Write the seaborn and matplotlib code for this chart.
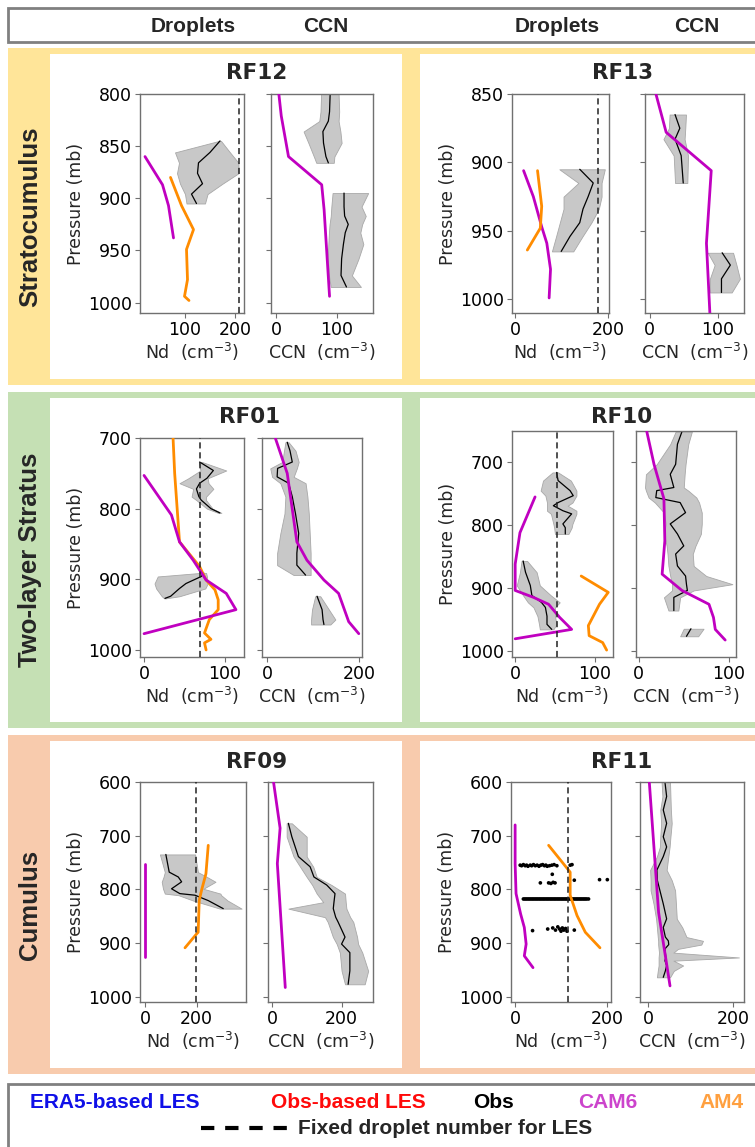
import numpy as np
import pandas as pd
import seaborn as sns
import matplotlib
matplotlib.use("Agg")
import matplotlib.pyplot as plt
from matplotlib.patches import Rectangle
from matplotlib.lines import Line2D
from matplotlib import font_manager

# ---------------- DATA ----------------
# RF12
rf12_cam_nd_x = [20, 55, 67, 77]
rf12_cam_nd_p = [860, 887, 907, 938]
rf12_am4_nd_x = [71, 93, 117, 103, 105, 99, 108]
rf12_am4_nd_p = [880, 907, 930, 949, 978, 994, 998]
rf12_obs_nd_p = [845, 856, 866, 876, 886, 896, 905]
rf12_obs_nd = [170, 150, 127, 125, 135, 113, 123]
rf12_obs_nd_lo = [168, 80, 88, 84, 90, 100, 103]
rf12_obs_nd_hi = [172, 190, 207, 207, 175, 145, 140]
rf12_fixed = 208
rf12_cam_ccn_x = [4, 8, 20, 75, 79, 88]
rf12_cam_ccn_p = [800, 821, 860, 887, 911, 994]
rf12_obs_ccn1_p = [800, 817, 826, 836, 847, 860, 866]
rf12_obs_ccn1 = [89, 88, 86, 77, 78, 82, 86]
rf12_obs_ccn1_lo = [74, 73, 71, 45, 53, 62, 66]
rf12_obs_ccn1_hi = [103, 104, 103, 106, 108, 96, 95]
rf12_obs_ccn2_p = [895, 908, 917, 925, 933, 944, 958, 974, 985]
rf12_obs_ccn2 = [112, 112, 113, 119, 114, 111, 108, 107, 116]
rf12_obs_ccn2_lo = [93, 91, 90, 88, 87, 86, 85, 87, 90]
rf12_obs_ccn2_hi = [152, 141, 148, 142, 139, 144, 136, 125, 140]

# RF13
rf13_cam_nd_x = [18, 39, 57, 68, 76, 73]
rf13_cam_nd_p = [906, 925, 947, 959, 978, 999]
rf13_am4_nd_x = [48, 57, 54, 26]
rf13_am4_nd_p = [906, 932, 948, 964]
rf13_obs_nd_p = [905, 915, 925, 934, 944, 954, 965]
rf13_obs_nd = [139, 168, 157, 146, 139, 118, 99]
rf13_obs_nd_lo = [95, 136, 104, 104, 96, 88, 79]
rf13_obs_nd_hi = [193, 186, 186, 180, 164, 145, 125]
rf13_fixed = 179
rf13_cam_ccn_x = [9, 24, 90, 83, 88]
rf13_cam_ccn_p = [850, 878, 906, 959, 1010]
rf13_obs_ccn1_p = [865, 875, 883, 895, 915]
rf13_obs_ccn1 = [37, 44, 37, 46, 49]
rf13_obs_ccn1_lo = [29, 28, 20, 35, 37]
rf13_obs_ccn1_hi = [53, 52, 51, 56, 55]
rf13_obs_ccn2_p = [966, 975, 985, 995]
rf13_obs_ccn2 = [106, 118, 105, 105]
rf13_obs_ccn2_lo = [85, 95, 88, 88]
rf13_obs_ccn2_hi = [122, 127, 132, 120]

# RF01
rf01_am4_nd_x = [36, 38, 44, 69, 77, 88, 92, 92, 81, 75, 83, 75, 77]
rf01_am4_nd_p = [700, 750, 847, 882, 901, 915, 929, 943, 957, 976, 985, 990, 1000]
rf01_cam_nd_x = [0, 34, 44, 61, 77, 102, 114, 0]
rf01_cam_nd_p = [753, 809, 847, 873, 901, 920, 943, 977]
rf01_obs_nd1_p = [734, 746, 757, 764, 772, 783, 788, 800, 806]
rf01_obs_nd1 = [69, 86, 78, 69, 65, 68, 71, 83, 94]
rf01_obs_nd1_lo = [68, 70, 55, 44, 61, 59, 65, 78, 92]
rf01_obs_nd1_hi = [72, 102, 79, 80, 86, 77, 77, 85, 96]
rf01_obs_nd2_p = [891, 896, 906, 913, 924, 927]
rf01_obs_nd2 = [74, 71, 52, 44, 33, 26]
rf01_obs_nd2_lo = [70, 17, 13, 15, 22, 25]
rf01_obs_nd2_hi = [77, 78, 79, 76, 44, 27]
rf01_fixed = 70
rf01_cam_ccn_x = [18, 44, 65, 87, 124, 156, 178, 200]
rf01_cam_ccn_p = [700, 750, 847, 873, 901, 920, 960, 977]
rf01_obs_ccn1_p = [706, 718, 734, 743, 755, 764, 783, 807, 835, 863, 880, 894]
rf01_obs_ccn1 = [44, 50, 55, 23, 22, 47, 55, 62, 69, 65, 65, 84]
rf01_obs_ccn1_lo = [40, 37, 33, 7, 11, 29, 40, 38, 29, 22, 22, 58]
rf01_obs_ccn1_hi = [47, 62, 69, 65, 58, 84, 88, 91, 93, 95, 95, 95]
rf01_obs_ccn2_p = [924, 943, 957, 964]
rf01_obs_ccn2 = [109, 120, 122, 124]
rf01_obs_ccn2_lo = [105, 98, 96, 96]
rf01_obs_ccn2_hi = [116, 135, 149, 138]

# RF10
rf10_cam_nd_x = [25, 6, 0, 0, 23, 42, 56, 71, 0]
rf10_cam_nd_p = [755, 812, 862, 904, 915, 926, 947, 966, 981]
rf10_am4_nd_x = [83, 117, 106, 92, 93, 110, 115]
rf10_am4_nd_p = [881, 907, 926, 960, 976, 987, 999]
rf10_obs_nd1_p = [716, 729, 745, 753, 764, 769, 777, 782, 798, 804, 814]
rf10_obs_nd1 = [52, 54, 69, 73, 54, 48, 60, 71, 60, 63, 63]
rf10_obs_nd1_lo = [47, 35, 32, 38, 40, 40, 40, 45, 48, 49, 50]
rf10_obs_nd1_hi = [54, 70, 77, 77, 72, 66, 77, 77, 72, 71, 67]
rf10_obs_nd2_p = [857, 875, 896, 912, 923, 931, 945, 958, 966]
rf10_obs_nd2 = [10, 13, 19, 21, 33, 38, 40, 40, 46]
rf10_obs_nd2_lo = [8, 6, 2, 10, 16, 23, 28, 30, 31]
rf10_obs_nd2_hi = [15, 27, 31, 45, 56, 50, 50, 52, 48]
rf10_fixed = 52
rf10_cam_ccn_x = [9, 17, 28, 29, 26, 48, 78, 83, 85, 96]
rf10_cam_ccn_p = [651, 703, 758, 825, 878, 904, 926, 947, 966, 983]
rf10_obs_ccn1_p = [651, 671, 703, 719, 740, 745, 756, 764, 780, 798, 814, 833, 846, 865, 881, 894, 904, 915, 936]
rf10_obs_ccn1 = [48, 43, 41, 35, 39, 20, 19, 46, 52, 35, 43, 50, 41, 43, 52, 53, 54, 39, 39]
rf10_obs_ccn1_lo = [41, 35, 20, 8, 7, 8, 11, 18, 28, 30, 28, 31, 32, 33, 35, 37, 37, 28, 33]
rf10_obs_ccn1_hi = [59, 55, 52, 51, 50, 55, 64, 67, 70, 70, 69, 63, 60, 61, 75, 104, 61, 46, 44]
rf10_obs_ccn2_p = [965, 977]
rf10_obs_ccn2 = [58, 53]
rf10_obs_ccn2_lo = [50, 46]
rf10_obs_ccn2_hi = [72, 66]

# RF09
rf09_cam_nd_x = [0, 0]
rf09_cam_nd_p = [752, 927]
rf09_am4_nd_x = [245, 236, 219, 210, 206, 200, 155]
rf09_am4_nd_p = [718, 771, 802, 821, 880, 883, 909]
rf09_obs_nd_p = [735, 768, 777, 786, 799, 808, 811, 821, 836]
rf09_obs_nd = [81, 94, 129, 142, 103, 135, 194, 245, 303]
rf09_obs_nd_lo = [58, 77, 72, 65, 70, 77, 130, 187, 290]
rf09_obs_nd_hi = [194, 205, 240, 273, 226, 292, 295, 320, 374]
rf09_fixed = 197
rf09_cam_ccn_x = [3, 22, 14, 37]
rf09_cam_ccn_p = [600, 686, 752, 983]
rf09_obs_ccn_p = [677, 702, 739, 758, 777, 792, 808, 824, 836, 852, 861, 889, 902, 918, 952, 977]
rf09_obs_ccn = [46, 56, 75, 109, 120, 157, 181, 178, 176, 183, 190, 210, 200, 224, 224, 219]
rf09_obs_ccn_lo = [41, 41, 61, 80, 99, 115, 128, 147, 46, 152, 160, 175, 186, 195, 200, 210]
rf09_obs_ccn_hi = [56, 99, 99, 118, 128, 171, 210, 212, 214, 225, 234, 245, 248, 260, 277, 267]

# RF11
rf11_cam_nd_x = [0, 0, 2, 12, 20, 24, 20, 39]
rf11_cam_nd_p = [680, 752, 808, 846, 871, 902, 924, 946]
rf11_am4_nd_x = [73, 105, 120, 120, 135, 153, 185]
rf11_am4_nd_p = [718, 752, 768, 811, 849, 880, 909]
rf11_obs_pts_x = ([11, 14, 18, 22, 25, 28, 33, 36, 40, 44, 48, 52, 56, 60, 64, 67, 70, 75, 80, 85, 91, 120, 124]
                  + [81]
                  + [55, 73, 78, 83, 87]
                  + [129, 184, 201]
                  + [18, 21, 24, 27, 30, 33, 36, 39, 42, 45, 48, 51, 54, 57, 60, 63, 66, 69, 72, 75, 78, 81,
                     84, 87, 90, 93, 96, 99, 102, 105, 108, 111, 114, 117, 120, 123, 126, 129, 132, 135, 138,
                     141, 144, 147, 150, 153, 156, 160]
                  + [38, 71, 82, 88, 93, 97, 100, 103, 106, 110, 113, 129])
rf11_obs_pts_p = ([755, 756, 754, 756, 755, 757, 755, 756, 754, 756, 755, 757, 755, 754, 756, 755, 757, 756, 755, 754, 756, 755, 754]
                  + [772]
                  + [788, 788, 789, 787, 788]
                  + [783, 782, 782]
                  + [818] * 48
                  + [877, 874, 872, 876, 870, 874, 878, 872, 876, 873, 878, 876])
rf11_fixed = 115
rf11_cam_ccn_x = [2, 18, 24, 51]
rf11_cam_ccn_p = [600, 777, 843, 980]
rf11_obs_ccn_p = [600, 627, 652, 677, 702, 721, 739, 764, 783, 802, 827, 855, 871, 889, 896, 903, 911, 918, 927, 933, 942, 952, 964]
rf11_obs_ccn = [39, 43, 35, 43, 35, 43, 35, 20, 21, 27, 35, 43, 35, 40, 47, 48, 39, 40, 41, 39, 43, 40, 35]
rf11_obs_ccn_lo = [31, 33, 28, 30, 28, 27, 20, 4, 5, 5, 12, 18, 20, 22, 23, 23, 24, 25, 24, 24, 24, 22, 20]
rf11_obs_ccn_hi = [51, 52, 53, 55, 52, 50, 47, 43, 55, 63, 65, 67, 80, 90, 129, 125, 70, 59, 214, 59, 82, 60, 51]

row_labels = ["Stratocumulus", "Two-layer Stratus", "Cumulus"]
header_labels = ["Droplets", "CCN", "Droplets", "CCN"]
legend_labels = ["ERA5-based LES", "Obs-based LES", "Obs", "CAM6", "AM4"]
legend_colors = ["#1010E8", "#FF0A0A", "#000000", "#CC44CC", "#FFA040"]
fixed_label = "Fixed droplet number for LES"

# ---------------- STYLE ----------------
sns.set_theme(style="ticks")
plt.rcParams['font.family'] = ['DejaVu Sans']
names = {f.name for f in font_manager.fontManager.ttflist}
if 'Liberation Sans Narrow' in names:
    NARROW = ['Liberation Sans Narrow', 'DejaVu Sans']
    NSIZE = 18
else:
    NARROW = ['Liberation Sans', 'DejaVu Sans']
    NSIZE = 15
ARIAL = ['Liberation Sans', 'DejaVu Sans']

CAM = '#C000C0'
AM4 = '#FF8C00'
BAND = '#C8C8C8'
SPINE = '#707070'
TICK_FS = 12.5
LAB_FS = 12.5

W, H = 755, 1147
fig = plt.figure(figsize=(W / 100, H / 100), dpi=100)
fig.patch.set_facecolor('white')


def fx(x):
    return x / W


def fy(y):
    return 1 - y / H


def rect(x0, y0, x1, y1, **kw):
    r = Rectangle((fx(x0), fy(y1)), fx(x1) - fx(x0), fy(y0) - fy(y1),
                  transform=fig.transFigure, **kw)
    fig.add_artist(r)


# header box
rect(8, 8, 780, 42, facecolor='white', edgecolor='#808080', lw=2, zorder=-4)
for lab, cx in zip(header_labels, [193, 326, 557, 697]):
    fig.text(fx(cx), fy(26), lab, ha='center', va='center', family=NARROW,
             fontsize=NSIZE, fontweight='bold')

# row bands
bands = [(48, 385, '#FFE599'), (392, 728, '#C5E0B4'), (735, 1074, '#F8CBAD')]
for (t, b, c), lab in zip(bands, row_labels):
    rect(8, t, 780, b, facecolor=c, edgecolor='none', zorder=-5)
    rect(50, t + 6, 402, b - 6, facecolor='white', edgecolor='none', zorder=-4)
    rect(420, t + 6, 780, b - 6, facecolor='white', edgecolor='none', zorder=-4)
    fig.text(fx(30), fy((t + b) / 2), lab, rotation=90, ha='center', va='center',
             family=ARIAL, fontsize=18.5, fontweight='bold')

# legend box
rect(8, 1084, 780, 1160, facecolor='white', edgecolor='#808080', lw=2, zorder=-4)
for lab, col, cx in zip(legend_labels, legend_colors, [115, 348, 494, 608, 722]):
    fig.text(fx(cx), fy(1103), lab, ha='center', va='center', color=col,
             family=NARROW, fontsize=NSIZE, fontweight='bold')
fig.add_artist(Line2D([fx(201), fx(290)], [fy(1128), fy(1128)], transform=fig.transFigure,
                      color='black', lw=3, ls=(0, (3.2, 2.6))))
fig.text(fx(298), fy(1128), fixed_label, ha='left', va='center', family=NARROW,
         fontsize=NSIZE, fontweight='bold')


def make_ax(l, t, r, b):
    ax = fig.add_axes([fx(l), fy(b), fx(r) - fx(l), fy(t) - fy(b)])
    for s in ax.spines.values():
        s.set_color(SPINE)
        s.set_linewidth(1.0)
    ax.tick_params(labelsize=TICK_FS, colors='black', length=3.5, width=0.8, pad=2.5)
    ax.tick_params(color=SPINE)
    return ax


def obs_band(ax, p, m, lo, hi):
    ax.fill_betweenx(p, lo, hi, color=BAND, edgecolor='#A8A8A8', lw=0.6, zorder=1)
    sns.lineplot(x=m, y=p, ax=ax, color='black', lw=0.9, sort=False, estimator=None, zorder=2)


def model(ax, x, p, col):
    sns.lineplot(x=x, y=p, ax=ax, color=col, lw=2.0, sort=False, estimator=None, zorder=3)


panels = [
    dict(title='RF12', tx=257, ty=73, t=94, b=313, nd=(140, 244), ccn=(271, 373),
         ylim=(1010, 800), yt=[800, 850, 900, 950, 1000], ndx=(10, 218), ndt=[100, 200],
         ccnx=(-9, 160), ccnt=[0, 100], fixed=rf12_fixed,
         nd_models=[(rf12_cam_nd_x, rf12_cam_nd_p, CAM), (rf12_am4_nd_x, rf12_am4_nd_p, AM4)],
         nd_obs=[(rf12_obs_nd_p, rf12_obs_nd, rf12_obs_nd_lo, rf12_obs_nd_hi)],
         ccn_models=[(rf12_cam_ccn_x, rf12_cam_ccn_p, CAM)],
         ccn_obs=[(rf12_obs_ccn1_p, rf12_obs_ccn1, rf12_obs_ccn1_lo, rf12_obs_ccn1_hi),
                  (rf12_obs_ccn2_p, rf12_obs_ccn2, rf12_obs_ccn2_lo, rf12_obs_ccn2_hi)]),
    dict(title='RF13', tx=623, ty=73, t=94, b=313, nd=(512, 609), ccn=(645, 744),
         ylim=(1010, 850), yt=[850, 900, 950, 1000], ndx=(-7, 202), ndt=[0, 200],
         ccnx=(-7, 138), ccnt=[0, 100], fixed=rf13_fixed,
         nd_models=[(rf13_cam_nd_x, rf13_cam_nd_p, CAM), (rf13_am4_nd_x, rf13_am4_nd_p, AM4)],
         nd_obs=[(rf13_obs_nd_p, rf13_obs_nd, rf13_obs_nd_lo, rf13_obs_nd_hi)],
         ccn_models=[(rf13_cam_ccn_x, rf13_cam_ccn_p, CAM)],
         ccn_obs=[(rf13_obs_ccn1_p, rf13_obs_ccn1, rf13_obs_ccn1_lo, rf13_obs_ccn1_hi),
                  (rf13_obs_ccn2_p, rf13_obs_ccn2, rf13_obs_ccn2_lo, rf13_obs_ccn2_hi)]),
    dict(title='RF01', tx=250, ty=417, t=438, b=657, nd=(140, 244), ccn=(262, 362),
         ylim=(1010, 700), yt=[700, 800, 900, 1000], ndx=(-5, 124), ndt=[0, 100],
         ccnx=(-11, 207), ccnt=[0, 200], fixed=rf01_fixed,
         nd_models=[(rf01_am4_nd_x, rf01_am4_nd_p, AM4), (rf01_cam_nd_x, rf01_cam_nd_p, CAM)],
         nd_obs=[(rf01_obs_nd1_p, rf01_obs_nd1, rf01_obs_nd1_lo, rf01_obs_nd1_hi),
                 (rf01_obs_nd2_p, rf01_obs_nd2, rf01_obs_nd2_lo, rf01_obs_nd2_hi)],
         ccn_models=[(rf01_cam_ccn_x, rf01_cam_ccn_p, CAM)],
         ccn_obs=[(rf01_obs_ccn1_p, rf01_obs_ccn1, rf01_obs_ccn1_lo, rf01_obs_ccn1_hi),
                  (rf01_obs_ccn2_p, rf01_obs_ccn2, rf01_obs_ccn2_lo, rf01_obs_ccn2_hi)]),
    dict(title='RF10', tx=622, ty=417, t=431, b=657, nd=(512, 613), ccn=(636, 736),
         ylim=(1010, 650), yt=[700, 800, 900, 1000], ndx=(-4, 123), ndt=[0, 100],
         ccnx=(-3, 108), ccnt=[0, 100], fixed=rf10_fixed,
         nd_models=[(rf10_cam_nd_x, rf10_cam_nd_p, CAM), (rf10_am4_nd_x, rf10_am4_nd_p, AM4)],
         nd_obs=[(rf10_obs_nd1_p, rf10_obs_nd1, rf10_obs_nd1_lo, rf10_obs_nd1_hi),
                 (rf10_obs_nd2_p, rf10_obs_nd2, rf10_obs_nd2_lo, rf10_obs_nd2_hi)],
         ccn_models=[(rf10_cam_ccn_x, rf10_cam_ccn_p, CAM)],
         ccn_obs=[(rf10_obs_ccn1_p, rf10_obs_ccn1, rf10_obs_ccn1_lo, rf10_obs_ccn1_hi),
                  (rf10_obs_ccn2_p, rf10_obs_ccn2, rf10_obs_ccn2_lo, rf10_obs_ccn2_hi)]),
    dict(title='RF09', tx=257, ty=762, t=782, b=1002, nd=(140, 246), ccn=(268, 373),
         ylim=(1010, 600), yt=[600, 700, 800, 900, 1000], ndx=(-19, 391), ndt=[0, 200],
         ccnx=(-13, 291), ccnt=[0, 200], fixed=rf09_fixed,
         nd_models=[(rf09_cam_nd_x, rf09_cam_nd_p, CAM), (rf09_am4_nd_x, rf09_am4_nd_p, AM4)],
         nd_obs=[(rf09_obs_nd_p, rf09_obs_nd, rf09_obs_nd_lo, rf09_obs_nd_hi)],
         ccn_models=[(rf09_cam_ccn_x, rf09_cam_ccn_p, CAM)],
         ccn_obs=[(rf09_obs_ccn_p, rf09_obs_ccn, rf09_obs_ccn_lo, rf09_obs_ccn_hi)]),
    dict(title='RF11', tx=622, ty=762, t=782, b=1002, nd=(511, 611), ccn=(640, 744),
         ylim=(1010, 600), yt=[600, 700, 800, 900, 1000], ndx=(-9, 209), ndt=[0, 200],
         ccnx=(-20, 226), ccnt=[0, 200], fixed=rf11_fixed,
         nd_models=[(rf11_cam_nd_x, rf11_cam_nd_p, CAM), (rf11_am4_nd_x, rf11_am4_nd_p, AM4)],
         nd_obs=[], scatter=(rf11_obs_pts_x, rf11_obs_pts_p),
         ccn_models=[(rf11_cam_ccn_x, rf11_cam_ccn_p, CAM)],
         ccn_obs=[(rf11_obs_ccn_p, rf11_obs_ccn, rf11_obs_ccn_lo, rf11_obs_ccn_hi)]),
]

for pn in panels:
    # droplet axes
    ax = make_ax(pn['nd'][0], pn['t'], pn['nd'][1], pn['b'])
    for (p, m, lo, hi) in pn['nd_obs']:
        obs_band(ax, p, m, lo, hi)
    if 'scatter' in pn:
        sx, sp = pn['scatter']
        sns.scatterplot(x=sx, y=sp, ax=ax, color='black', s=7, edgecolor='none', zorder=2)
    for (x, p, c) in pn['nd_models']:
        model(ax, x, p, c)
    ax.axvline(pn['fixed'], color='#222222', lw=1.1, ls=(0, (4, 2.5)), zorder=4)
    ax.set_xlim(*pn['ndx'])
    ax.set_ylim(*pn['ylim'])
    ax.set_xticks(pn['ndt'])
    ax.set_yticks(pn['yt'])
    ax.set_ylabel('Pressure (mb)', fontsize=LAB_FS, labelpad=2)
    ax.set_xlabel('Nd  (cm$^{-3}$)', fontsize=LAB_FS, labelpad=1)

    # CCN axes
    ax2 = make_ax(pn['ccn'][0], pn['t'], pn['ccn'][1], pn['b'])
    for (p, m, lo, hi) in pn['ccn_obs']:
        obs_band(ax2, p, m, lo, hi)
    for (x, p, c) in pn['ccn_models']:
        model(ax2, x, p, c)
    ax2.set_xlim(*pn['ccnx'])
    ax2.set_ylim(*pn['ylim'])
    ax2.set_xticks(pn['ccnt'])
    ax2.set_yticks(pn['yt'])
    ax2.set_yticklabels([])
    ax2.set_ylabel('')
    ax2.set_xlabel('CCN  (cm$^{-3}$)', fontsize=LAB_FS, labelpad=1)

    fig.text(fx(pn['tx']), fy(pn['ty']), pn['title'], ha='center', va='center',
             fontsize=15.5, fontweight='bold', family=['DejaVu Sans'])

fig.savefig('out.png', dpi=100)
